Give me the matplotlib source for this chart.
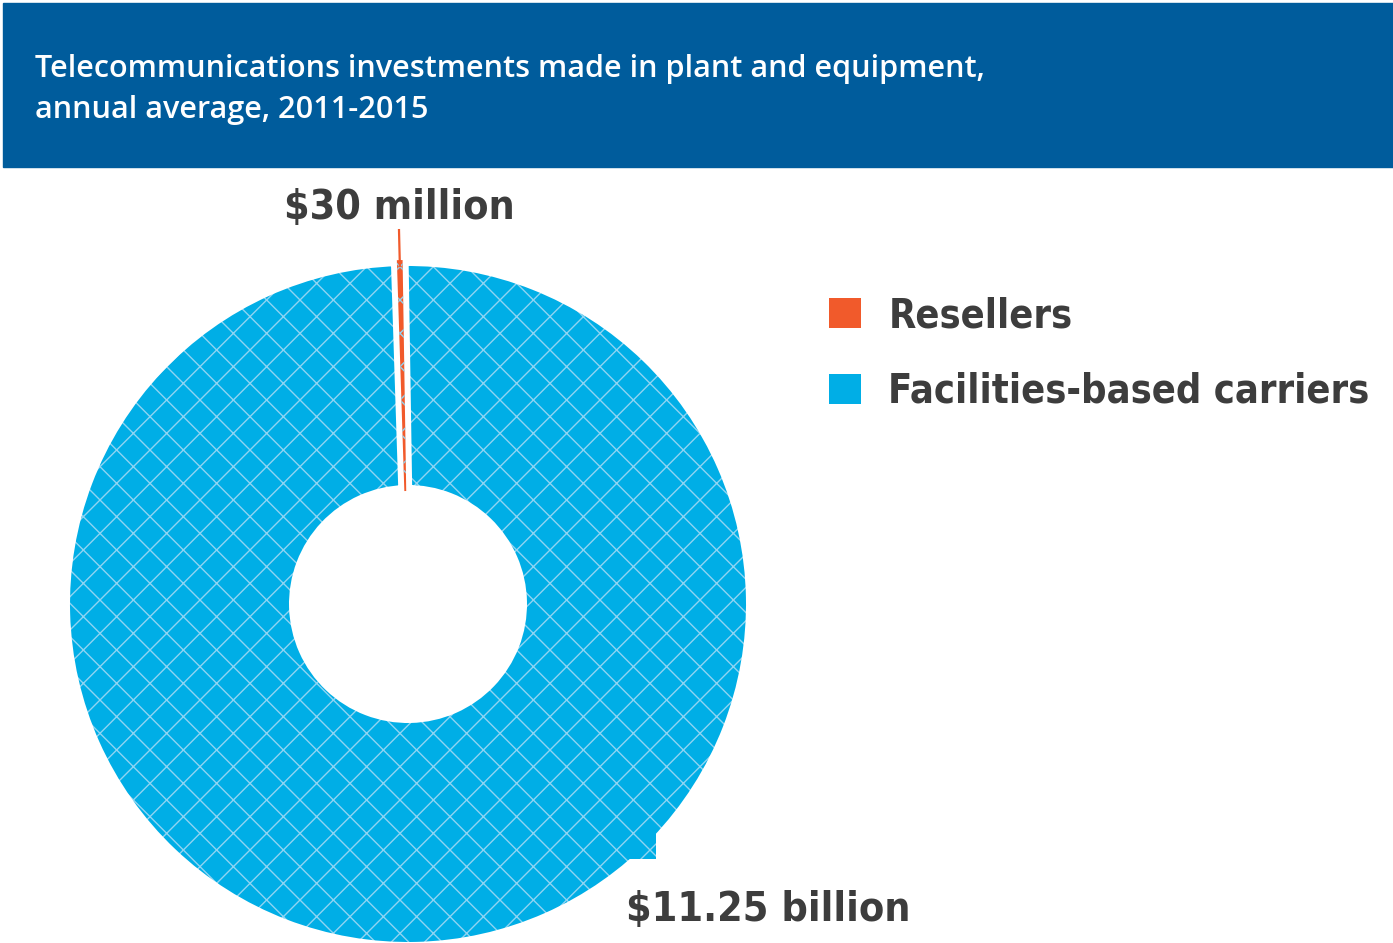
import numpy as np
import matplotlib.pyplot as plt
import matplotlib.colors as mcolors
from matplotlib.patches import Rectangle, Patch

plt.rcParams['hatch.linewidth'] = 1.0
hatch_rgba = mcolors.to_rgba('#8fd4f2')

# annual average investment, millions of dollars
categories = ['Resellers', 'Facilities-based carriers']
values = [30, 11250]
value_labels = ['$30 million', '$11.25 billion']
colors = ['#f15a2b', '#00aee6']

title_lines = ['Telecommunications investments made in plant and equipment,',
               'annual average, 2011-2015']

W, H = 1393, 943
fig = plt.figure(figsize=(W / 100, H / 100), dpi=100)

# header band
fig.patches.append(Rectangle((3 / W, 1 - 167 / H), 1, 164 / H,
                             transform=fig.transFigure, color='#005c9c', zorder=0))
title_font = dict(color='white', fontsize=22.1, family='Open Sans', weight='semibold')
fig.text(35 / W, 1 - 77 / H, title_lines[0], **title_font)
fig.text(35 / W, 1 - 118 / H, title_lines[1], **title_font)

# donut: centre (408, 604) px, outer radius 338 px, hole 119 px
# the white edge stroke eats half its width on each rim, so draw a bit larger
edge_px = 12
cx, cy = 408, 604
r_out = 338 + edge_px / 2
r_in = 119 - edge_px / 2
ax = fig.add_axes([(cx - r_out) / W, (H - cy - r_out) / H, 2 * r_out / W, 2 * r_out / H])
wedges, _ = ax.pie(values, colors=colors, startangle=90.9, radius=1.0,
                   wedgeprops=dict(width=1 - r_in / r_out, edgecolor='white',
                                   linewidth=edge_px * 0.72))
for w in wedges:
    w.set_hatch('x')
    # hatch follows the edge colour by default; keep it light blue instead
    w._hatch_color = hatch_rgba
# small slice sits on top without a border so it stays visible
wedges[0].set_linewidth(0)
wedges[0].set_zorder(5)
ax.set_xlim(-1, 1)
ax.set_ylim(-1, 1)
ax.set_aspect('equal')
ax.axis('off')

# leader line and label for the small slice
mid = np.deg2rad((wedges[0].theta1 + wedges[0].theta2) / 2)
k0 = 338 / r_out
k1 = (cy - 230) / r_out
ax.plot([np.cos(mid) * k0, np.cos(mid) * k1], [np.sin(mid) * k0, np.sin(mid) * k1],
        color=colors[0], lw=1.6, clip_on=False, zorder=6)
lbl_font = dict(family='DejaVu Sans', fontstretch='condensed', weight='bold',
                color='#3d3d3d', fontsize=29.5)
ax.text(np.cos(mid) * k1, (cy - 228) / r_out, value_labels[0], ha='center',
        va='bottom', **lbl_font)

# stray block of the big slice poking out past the rim, lower right
ax.add_patch(Rectangle(((620 - cx) / r_out, (cy - 859) / r_out), 36 / r_out, 26 / r_out,
                       facecolor=colors[1], edgecolor=hatch_rgba, linewidth=0,
                       hatch='x', zorder=4, clip_on=False))
ax.text((768 - cx) / r_out, (cy - 910) / r_out, value_labels[1], ha='center',
        va='center', zorder=7, **lbl_font)

handles = [Patch(facecolor=c, edgecolor='none') for c in colors]
fig.legend(handles, categories, loc='upper left', bbox_to_anchor=(829 / W, 1 - 296 / H),
           frameon=False, handlelength=0.8, handleheight=0.8,
           handletextpad=0.7, labelspacing=0.9, borderpad=0, borderaxespad=0,
           prop=dict(family='DejaVu Sans', stretch='condensed', weight='bold', size=28.5),
           labelcolor='#3d3d3d')

fig.savefig('out.png', dpi=100)
